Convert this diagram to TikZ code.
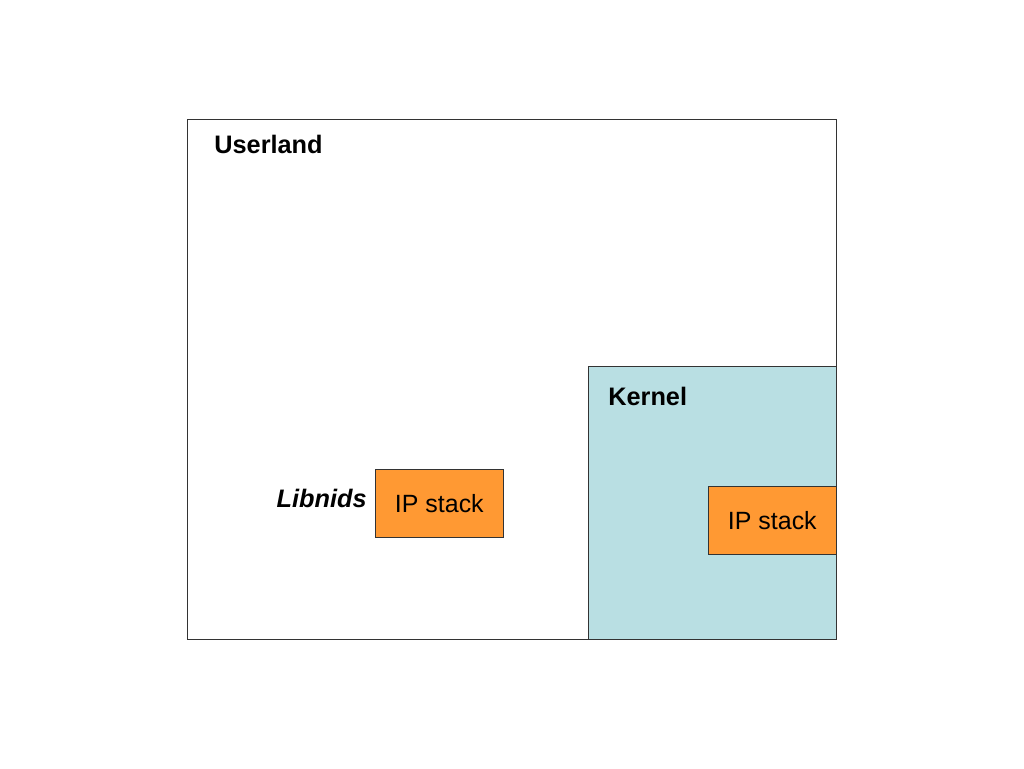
\documentclass[tikz,border=0pt]{standalone}
\usepackage{fontspec}
\setmainfont{Liberation Sans}
\usetikzlibrary{positioning}
\definecolor{kernelblue}{HTML}{B9DFE3}
\definecolor{stackorange}{HTML}{FF9933}
\tikzset{
	area/.style={
		rectangle,
		draw=black!80,
		inner sep=0pt,
		anchor=north west
	}
}

\begin{document}
\begin{tikzpicture}[x=0.02cm,y=-0.02cm]
		\tikzstyle{stack}=[area, fill = stackorange, minimum width = 128*0.02cm, minimum height = 68*0.02cm, font=\fontsize{14.2}{17}\selectfont]
		\tikzstyle{title}=[inner sep=0pt, font=\fontsize{14.4}{17}\selectfont\bfseries]
		\useasboundingbox (0,0) rectangle (1024,768);
		\node[area, minimum width = 649*0.02cm, minimum height = 520*0.02cm] (user) at (187,119) {};
		\node[area, fill = kernelblue, minimum width = 248*0.02cm, minimum height = 273*0.02cm] (kernel) at (588,366) {};
		
		\node[title, anchor=base west] (userlabel) at (214,153) {Userland};
		\node[title, anchor=base west] (kernellabel) at (608,405) {Kernel};
		
		\node[stack] (libstack) at (375,469) {IP stack};
		\node[stack] (kernstack) at (708,486) {IP stack};
		
		\node[title, font=\fontsize{14.4}{17}\selectfont\bfseries\itshape, anchor=base east] (libnids) at (367,507) {Libnids};
		
		\end{tikzpicture}
\end{document}
